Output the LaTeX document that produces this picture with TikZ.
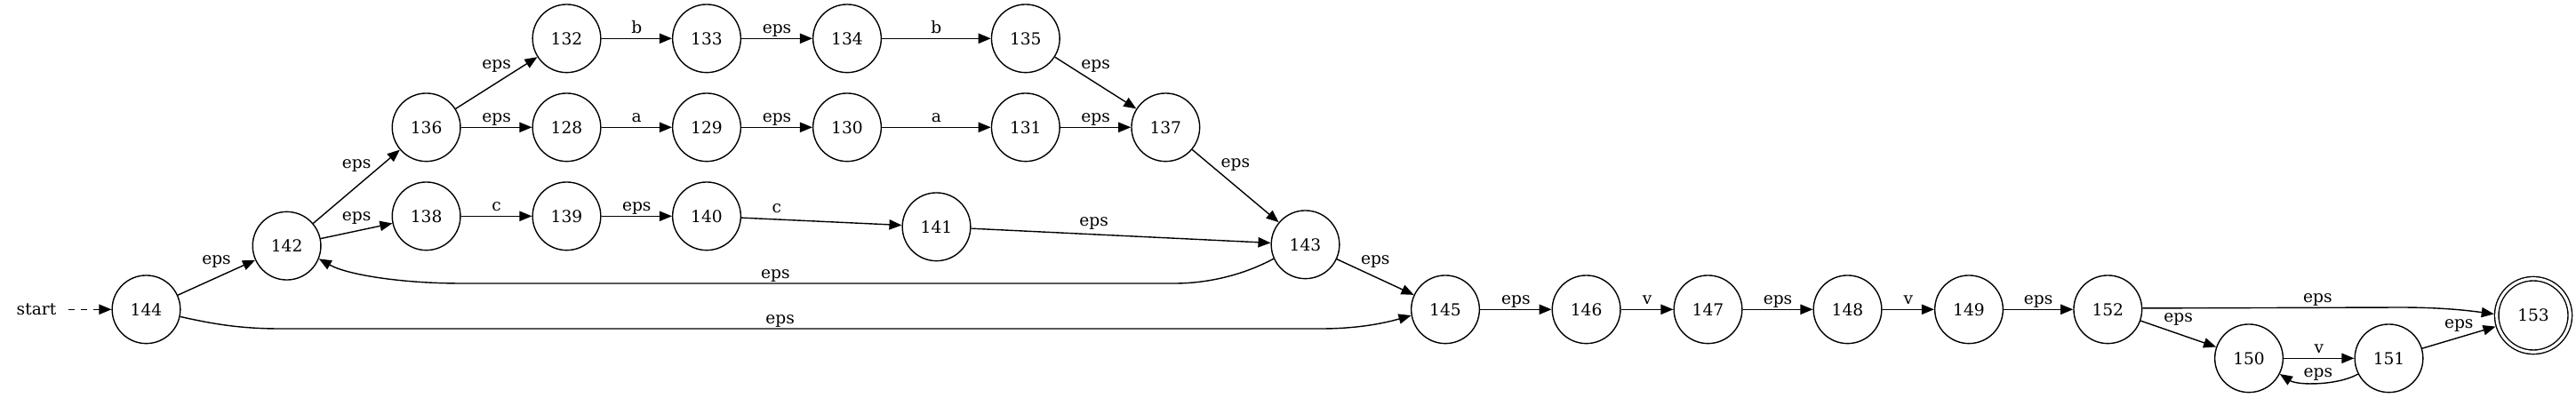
\documentclass[tikz,border=0pt]{standalone}
\usepackage{fontspec}
\setmainfont{DejaVu Serif}
\usepackage{tikz}
\usetikzlibrary{arrows.meta}

\begin{document}
\begin{tikzpicture}[state/.style={circle, draw, minimum size=0.767cm, inner sep=0pt},
  final/.style={circle, draw, double, double distance=0.9pt, minimum size=0.826cm, inner sep=0pt, outer sep=0.85pt},
  lbl/.style={inner sep=0.5pt, text height=4pt, text depth=1pt},
  >={Triangle[length=4pt, width=3.2pt]},
  font=\fontsize{5.3}{6}\selectfont]

\useasboundingbox (0,0) rectangle (28.98,4.47);

\node[inner sep=3.6pt] (start) at (0.41,0.987) {start};

\node[state] (s144) at (1.645,0.987) {144};
\node[state] (s142) at (3.226,1.703) {142};

\node[state] (s136) at (4.796,3.037) {136};
\node[state] (s138) at (4.796,2.037) {138};

\node[state] (s132) at (6.375,4.037) {132};
\node[state] (s133) at (7.95,4.037) {133};
\node[state] (s134) at (9.53,4.037) {134};
\node[state] (s135) at (11.538,4.037) {135};

\node[state] (s128) at (6.375,3.037) {128};
\node[state] (s129) at (7.95,3.037) {129};
\node[state] (s130) at (9.53,3.037) {130};
\node[state] (s131) at (11.538,3.037) {131};
\node[state] (s137) at (13.113,3.037) {137};

\node[state] (s139) at (6.375,2.037) {139};
\node[state] (s140) at (7.95,2.037) {140};
\node[state] (s141) at (10.535,1.917) {141};
\node[state] (s143) at (14.685,1.717) {143};

\node[state] (s145) at (16.26,0.987) {145};
\node[state] (s146) at (17.846,0.987) {146};
\node[state] (s147) at (19.215,0.987) {147};
\node[state] (s148) at (20.785,0.987) {148};
\node[state] (s149) at (22.15,0.987) {149};
\node[state] (s152) at (23.713,0.987) {152};
\node[state] (s150) at (25.30,0.437) {150};
\node[state] (s151) at (26.875,0.437) {151};
\node[final] (s153) at (28.50,0.92) {153};

\path[draw] [->, dash pattern=on 2.2pt off 1.8pt] (start) -- (s144);
\path[draw] [->] (s144) -- node[lbl, above=2.5pt] {eps} (s142);
\path[draw] [->] (s142) -- node[lbl, above=4pt] {eps} (s136);
\path[draw] [->] (s142) -- node[lbl, above=1.5pt] {eps} (s138);

\path[draw] [->] (s136) -- node[lbl, above=2.9pt] {eps} (s132);
\path[draw] [->] (s132) -- node[lbl, above] {b} (s133);
\path[draw] [->] (s133) -- node[lbl, above] {eps} (s134);
\path[draw] [->] (s134) -- node[lbl, above] {b} (s135);
\path[draw] [->] (s135) -- node[lbl, above=2.9pt] {eps} (s137);

\path[draw] [->] (s136) -- node[lbl, above] {eps} (s128);
\path[draw] [->] (s128) -- node[lbl, above] {a} (s129);
\path[draw] [->] (s129) -- node[lbl, above] {eps} (s130);
\path[draw] [->] (s130) -- node[lbl, above] {a} (s131);
\path[draw] [->] (s131) -- node[lbl, above] {eps} (s137);

\path[draw] [->] (s138) -- node[lbl, above] {c} (s139);
\path[draw] [->] (s139) -- node[lbl, above] {eps} (s140);
\path[draw] [->] (s140) -- node[lbl, above=0.3pt, pos=0.22] {c} (s141);
\path[draw] [->] (s141) -- node[lbl, above=1.1pt, pos=0.41] {eps} (s143);

\path[draw] [->] (s137) -- node[lbl, above=4.1pt] {eps} (s143);
\path[draw] [->] (s143) -- node[lbl, above=2.5pt] {eps} (s145);

% back edge and skip edge
\path[draw] [->] (s143.204) .. controls (14.0,1.38) and (13.6,1.28) .. (13.21,1.28)
  -- node[lbl, above, pos=0.56] {eps} (5.2,1.28) .. controls (4.5,1.28) and (3.9,1.38) .. (s142.-22);
\path[draw] [->] (s144.-12) .. controls (2.45,0.81) and (2.75,0.77) .. (3.16,0.77)
  -- node[lbl, above, pos=0.48] {eps} (14.86,0.77) .. controls (15.3,0.77) and (15.6,0.84) .. (s145.190);

\path[draw] [->] (s145) -- node[lbl, above] {eps} (s146);
\path[draw] [->] (s146) -- node[lbl, above] {v} (s147);
\path[draw] [->] (s147) -- node[lbl, above] {eps} (s148);
\path[draw] [->] (s148) -- node[lbl, above] {v} (s149);
\path[draw] [->] (s149) -- node[lbl, above] {eps} (s152);

\path[draw] [->] (s152.2) -- node[lbl, above, pos=0.68] {eps} (27.0,1.01) .. controls (27.5,1.01) and (27.8,0.97) .. (s153.178);
\path[draw] [->] (s152) -- node[lbl, above=2.2pt] {eps} (s150);
\path[draw] [->] (s150) -- node[lbl, above] {v} (s151);
\path[draw] [->] (s151.207) .. controls (26.3,0.13) and (25.85,0.13) .. node[lbl, above] {eps} (s150.-27);
\path[draw] [->] (s151) -- node[lbl, above=1.3pt] {eps} (s153);

\end{tikzpicture}
\end{document}
